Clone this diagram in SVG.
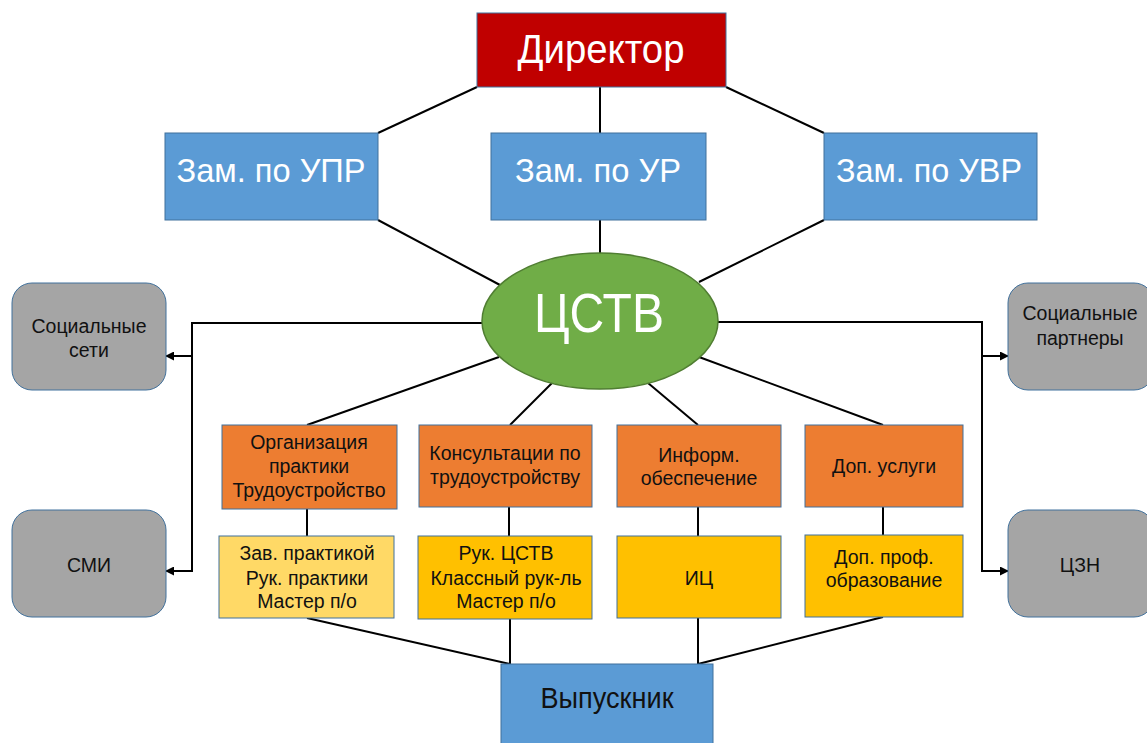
<svg xmlns="http://www.w3.org/2000/svg" width="1147" height="743" viewBox="0 0 1147 743">
<defs>
<style>
.ln{fill:none;stroke:#000;stroke-width:2}
.arr{marker-end:url(#ah)}
.blue{fill:#5B9BD5;stroke:#41719C;stroke-width:1}
.red{fill:#C00000;stroke:#41719C;stroke-width:1}
.org{fill:#ED7D31;stroke:#41719C;stroke-width:1}
.ylw{fill:#FFC000;stroke:#41719C;stroke-width:1}
.lylw{fill:#FFD966;stroke:#41719C;stroke-width:1}
.gray{fill:#A5A5A5;stroke:#41719C;stroke-width:1}
.grn{fill:#70AD47;stroke:#507E32;stroke-width:1.5}
text{font-family:"Liberation Sans",Arial,sans-serif;text-anchor:middle}
.w{fill:#fff}
.d{fill:#111;font-size:19.5px}
</style>
<marker id="ah" markerUnits="userSpaceOnUse" markerWidth="9" markerHeight="9" refX="8" refY="4.5" orient="auto">
<path d="M0,0 L9,4.5 L0,9 z" fill="#000"/>
</marker>
</defs>
<rect width="1147" height="743" fill="#fff"/>
<g id="connectors">
<path class="ln" d="M477,87 L378,133"/>
<path class="ln" d="M600,87 L600,133"/>
<path class="ln" d="M726,87 L824,133"/>
<path class="ln" d="M378,220 L500,285"/>
<path class="ln" d="M600,220 L600,253"/>
<path class="ln" d="M824,220 L699,282"/>
<path class="ln arr" d="M482,323 H192 V571 H166"/>
<path class="ln arr" d="M192,356 H166"/>
<path class="ln arr" d="M718,322 H982 V571 H1008"/>
<path class="ln arr" d="M982,356 H1008"/>
<path class="ln" d="M499,357 L307,425"/>
<path class="ln" d="M552,383 L510,425"/>
<path class="ln" d="M648,383 L698,425"/>
<path class="ln" d="M699,357 L883,425"/>
<path class="ln" d="M307,509 V536"/>
<path class="ln" d="M509,507 V536"/>
<path class="ln" d="M698,507 V536"/>
<path class="ln" d="M883,507 V535"/>
<path class="ln" d="M307,618 L510,664"/>
<path class="ln" d="M510,619 V664"/>
<path class="ln" d="M698,618 V664"/>
<path class="ln" d="M883,617 L698,664"/>
</g>
<g id="director">
<rect class="red" x="477" y="13" width="249" height="74"/>
<text class="w" x="601" y="63" font-size="40" textLength="167" lengthAdjust="spacingAndGlyphs">Директор</text>
</g>
<g id="zam-upr">
<rect class="blue" x="165" y="133" width="213" height="87"/>
<text class="w" x="271" y="182" font-size="33" textLength="189" lengthAdjust="spacingAndGlyphs">Зам. по УПР</text>
</g>
<g id="zam-ur">
<rect class="blue" x="491" y="133" width="215" height="87"/>
<text class="w" x="598" y="182" font-size="33" textLength="166" lengthAdjust="spacingAndGlyphs">Зам. по УР</text>
</g>
<g id="zam-uvr">
<rect class="blue" x="824" y="133" width="213" height="87"/>
<text class="w" x="929" y="182" font-size="33" textLength="186" lengthAdjust="spacingAndGlyphs">Зам. по УВР</text>
</g>
<g id="cstv">
<ellipse class="grn" cx="600" cy="321" rx="118" ry="68"/>
<text class="w" x="599" y="332" font-size="56" textLength="130" lengthAdjust="spacingAndGlyphs">ЦСТВ</text>
</g>
<g id="soc-seti">
<rect class="gray" x="12" y="283" width="154" height="107" rx="20"/>
<text class="d" x="89" y="333">Социальные</text>
<text class="d" x="89" y="357">сети</text>
</g>
<g id="smi">
<rect class="gray" x="12" y="510" width="154" height="107" rx="20"/>
<text class="d" x="89" y="572">СМИ</text>
</g>
<g id="soc-partnery">
<rect class="gray" x="1008" y="283" width="146" height="107" rx="20"/>
<text class="d" x="1080" y="320">Социальные</text>
<text class="d" x="1080" y="345">партнеры</text>
</g>
<g id="czn">
<rect class="gray" x="1008" y="510" width="146" height="107" rx="20"/>
<text class="d" x="1080" y="572">ЦЗН</text>
</g>
<g id="org-praktiki">
<rect class="org" x="222" y="425" width="175" height="84"/>
<text class="d" x="309" y="449">Организация</text>
<text class="d" x="309" y="473">практики</text>
<text class="d" x="309" y="497">Трудоустройство</text>
</g>
<g id="konsultacii">
<rect class="org" x="419" y="425" width="173" height="82"/>
<text class="d" x="505" y="460">Консультации по</text>
<text class="d" x="505" y="484">трудоустройству</text>
</g>
<g id="inform">
<rect class="org" x="617" y="425" width="164" height="82"/>
<text class="d" x="699" y="462">Информ.</text>
<text class="d" x="699" y="485">обеспечение</text>
</g>
<g id="dop-uslugi">
<rect class="org" x="805" y="425" width="158" height="82"/>
<text class="d" x="884" y="473">Доп. услуги</text>
</g>
<g id="zav-praktikoi">
<rect class="lylw" x="219" y="536" width="175" height="82"/>
<text class="d" x="307" y="560">Зав. практикой</text>
<text class="d" x="307" y="585">Рук. практики</text>
<text class="d" x="307" y="608">Мастер п/о</text>
</g>
<g id="ruk-cstv">
<rect class="ylw" x="418" y="536" width="174" height="83"/>
<text class="d" x="506" y="560">Рук. ЦСТВ</text>
<text class="d" x="506" y="585">Классный рук-ль</text>
<text class="d" x="506" y="608">Мастер п/о</text>
</g>
<g id="ic">
<rect class="ylw" x="617" y="536" width="164" height="82"/>
<text class="d" x="699" y="585">ИЦ</text>
</g>
<g id="dop-prof">
<rect class="ylw" x="805" y="535" width="158" height="82"/>
<text class="d" x="884" y="564">Доп. проф.</text>
<text class="d" x="884" y="587">образование</text>
</g>
<g id="vypusknik">
<rect class="blue" x="501" y="664" width="212" height="85"/>
<text x="607" y="708" font-size="29" fill="#111" textLength="133" lengthAdjust="spacingAndGlyphs">Выпускник</text>
</g>
</svg>
